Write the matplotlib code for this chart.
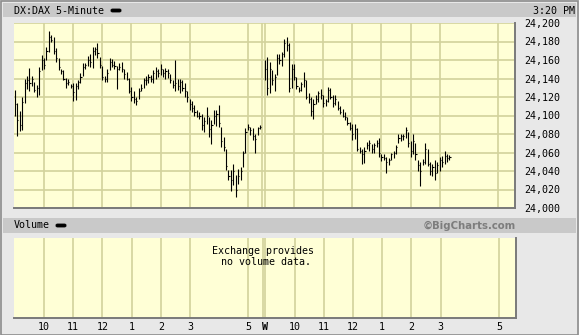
import matplotlib
matplotlib.use("Agg")
import matplotlib.pyplot as plt
from matplotlib.patches import Rectangle, FancyBboxPatch
import numpy as np

W, H = 579, 335

# 5-minute HLC bars, day 1 (9:00 - 17:25)
day1_high = [24128, 24114, 24105, 24120, 24140, 24143, 24151, 24143, 24136, 24133,
             24152, 24165, 24162, 24174, 24191, 24187, 24185, 24173, 24162, 24150,
             24149, 24141, 24140, 24134, 24135, 24135, 24138, 24146, 24157, 24157,
             24164, 24166, 24174, 24174, 24178, 24163, 24154, 24143, 24150, 24162,
             24161, 24159, 24154, 24157, 24158, 24150, 24147, 24141, 24131, 24127,
             24120, 24130, 24134, 24141, 24143, 24145, 24144, 24149, 24152, 24150,
             24156, 24150, 24151, 24150, 24145, 24138, 24160, 24140, 24140, 24138,
             24135, 24126, 24118, 24116, 24111, 24106, 24104, 24102, 24098, 24109,
             24098, 24095, 24106, 24106, 24111, 24088, 24077, 24064, 24041, 24041,
             24048, 24036, 24042, 24044, 24062, 24086, 24091, 24088, 24086, 24080,
             24088, 24090]
day1_low = [24100, 24078, 24083, 24084, 24113, 24129, 24127, 24132, 24125, 24120,
            24122, 24149, 24150, 24160, 24169, 24180, 24167, 24158, 24149, 24145,
            24138, 24130, 24133, 24130, 24116, 24117, 24129, 24135, 24143, 24150,
            24154, 24152, 24151, 24165, 24162, 24151, 24138, 24136, 24136, 24149,
            24152, 24150, 24129, 24149, 24147, 24140, 24138, 24124, 24116, 24113,
            24111, 24118, 24126, 24130, 24133, 24135, 24136, 24135, 24140, 24142,
            24144, 24142, 24140, 24141, 24135, 24130, 24127, 24128, 24124, 24126,
            24120, 24115, 24106, 24104, 24100, 24098, 24096, 24084, 24082, 24091,
            24077, 24069, 24091, 24089, 24088, 24066, 24062, 24041, 24030, 24018,
            24025, 24012, 24026, 24030, 24044, 24060, 24084, 24079, 24073, 24059,
            24079, 24085]
day1_close = [24112, 24095, 24090, 24115, 24135, 24138, 24135, 24140, 24128, 24130,
              24148, 24160, 24155, 24170, 24185, 24182, 24170, 24162, 24152, 24148,
              24140, 24135, 24136, 24132, 24125, 24132, 24136, 24142, 24152, 24155,
              24160, 24158, 24170, 24172, 24168, 24155, 24142, 24140, 24146, 24158,
              24155, 24153, 24150, 24152, 24150, 24145, 24140, 24126, 24120, 24118,
              24116, 24126, 24130, 24138, 24138, 24142, 24140, 24146, 24148, 24146,
              24150, 24146, 24148, 24146, 24138, 24133, 24135, 24132, 24136, 24130,
              24126, 24120, 24112, 24108, 24104, 24100, 24100, 24090, 24094, 24100,
              24085, 24090, 24100, 24102, 24092, 24072, 24066, 24045, 24035, 24030,
              24040, 24020, 24035, 24040, 24060, 24082, 24088, 24084, 24078, 24075,
              24086, 24088]

# day 2 (9:00 - 15:20)
day2_high = [24160, 24163, 24158, 24149, 24145, 24167, 24167, 24169, 24183, 24185,
             24178, 24156, 24156, 24142, 24131, 24136, 24147, 24138, 24124, 24120,
             24118, 24122, 24127, 24129, 24122, 24118, 24131, 24130, 24122, 24122,
             24116, 24110, 24107, 24104, 24098, 24093, 24091, 24091, 24087, 24066,
             24064, 24066, 24071, 24073, 24069, 24070, 24073, 24076, 24058, 24058,
             24055, 24054, 24060, 24062, 24068, 24080, 24080, 24080, 24088, 24082,
             24072, 24080, 24070, 24052, 24050, 24053, 24070, 24064, 24050, 24048,
             24052, 24050, 24055, 24056, 24062, 24058, 24057]
day2_low = [24138, 24122, 24124, 24133, 24127, 24144, 24156, 24153, 24163, 24170,
            24125, 24130, 24138, 24129, 24125, 24127, 24131, 24118, 24113, 24100,
            24096, 24112, 24115, 24118, 24109, 24110, 24115, 24118, 24109, 24111,
            24106, 24102, 24098, 24095, 24090, 24084, 24073, 24075, 24062, 24060,
            24048, 24049, 24064, 24062, 24060, 24060, 24066, 24055, 24051, 24052,
            24038, 24047, 24052, 24054, 24058, 24070, 24072, 24074, 24076, 24066,
            24055, 24058, 24052, 24040, 24024, 24046, 24048, 24045, 24036, 24035,
            24030, 24038, 24040, 24044, 24048, 24050, 24052]
day2_close = [24150, 24130, 24150, 24138, 24142, 24162, 24160, 24166, 24178, 24176,
              24130, 24150, 24142, 24132, 24128, 24134, 24138, 24120, 24118, 24105,
              24112, 24118, 24124, 24122, 24114, 24116, 24128, 24120, 24114, 24118,
              24108, 24104, 24100, 24098, 24092, 24086, 24080, 24085, 24064, 24062,
              24058, 24062, 24068, 24070, 24064, 24068, 24070, 24060, 24055, 24054,
              24050, 24052, 24058, 24060, 24066, 24076, 24078, 24078, 24084, 24070,
              24062, 24072, 24058, 24046, 24040, 24050, 24064, 24048, 24040, 24044,
              24038, 24046, 24052, 24050, 24056, 24054, 24055]

price_ticks = [24000, 24020, 24040, 24060, 24080, 24100, 24120, 24140, 24160, 24180, 24200]
hour_labels = ["10", "11", "12", "1", "2", "3", "5"]
hour_of_day = [10, 11, 12, 13, 14, 15, 17]

BAR_H = 5 / 60.0
DAY2_OFFSET = 8.5 + BAR_H  # hours from day-1 open to day-2 open on the x axis

BG = "#e8e8e8"
BAR_BG = "#c9c9c9"
PLOT_BG = "#ffffd6"
GRID = "#d2d29c"
SHADOW = "#7a7a7a"
MONO = "DejaVu Sans Mono"


def add_ax(fig, l, t, r, b):
    return fig.add_axes([l / W, 1 - b / H, (r - l) / W, (b - t) / H])


def px_rect(fig, l, t, r, b, color, z=0):
    fig.patches.append(Rectangle((l / W, 1 - b / H), (r - l) / W, (b - t) / H,
                                 transform=fig.transFigure, facecolor=color,
                                 edgecolor="none", zorder=z))


fig = plt.figure(figsize=(W / 100, H / 100), dpi=100)
fig.patch.set_facecolor(BG)

# outer frame and title strips
fig.patches.append(Rectangle((0.5 / W, 0.5 / H), (W - 1.5) / W, (H - 1.5) / H,
                             transform=fig.transFigure, facecolor="none",
                             edgecolor="#8c8c8c", linewidth=1.2))
px_rect(fig, 3, 3, 576, 17, BAR_BG)
px_rect(fig, 3, 218, 576, 233, BAR_BG)

fig.text(14 / W, 1 - 10.5 / H, "DX:DAX 5-Minute", family=MONO, fontsize=7.2,
         va="center", ha="left")
fig.patches.append(FancyBboxPatch((111 / W, 1 - 12 / H), 10 / W, 3 / H,
                                  boxstyle="round,pad=0,rounding_size=0.003",
                                  transform=fig.transFigure, facecolor="black",
                                  edgecolor="black", linewidth=0.6))
fig.text(575 / W, 1 - 10.5 / H, "3:20 PM", family=MONO, fontsize=7.2,
         va="center", ha="right")
fig.text(14 / W, 1 - 225.5 / H, "Volume", family=MONO, fontsize=7.2,
         va="center", ha="left")
fig.patches.append(FancyBboxPatch((56 / W, 1 - 227 / H), 10 / W, 3 / H,
                                  boxstyle="round,pad=0,rounding_size=0.003",
                                  transform=fig.transFigure, facecolor="black",
                                  edgecolor="black", linewidth=0.6))
fig.text(516 / W, 1 - 225.5 / H, "\u00a9BigCharts.com", fontsize=7.3,
         fontweight="bold", color="#7d7d7d", va="center", ha="right")

# x positions in hours since day-1 open
x1 = np.arange(len(day1_close)) * BAR_H
x2 = DAY2_OFFSET + np.arange(len(day2_close)) * BAR_H
tick_x = [h - 9 for h in hour_of_day] + [DAY2_OFFSET] + \
         [DAY2_OFFSET + h - 9 for h in hour_of_day]
tick_lab = hour_labels + ["W"] + hour_labels
grid_x = [h - 9 for h in hour_of_day] + [8.5, DAY2_OFFSET] + \
         [DAY2_OFFSET + h - 9 for h in hour_of_day]
xmin, xmax = -0.03, 17.17

# ---- price panel -------------------------------------------------------
ax = add_ax(fig, 14, 23, 515, 208)
ax.set_facecolor(PLOT_BG)
ax.set_xlim(xmin, xmax)
ax.set_ylim(24000, 24200)
for y in price_ticks:
    ax.axhline(y, color=GRID, lw=1.2, zorder=1)
for x in grid_x:
    ax.axvline(x, color=GRID, lw=1.2, zorder=1)

for xs, hi, lo, cl in ((x1, day1_high, day1_low, day1_close),
                       (x2, day2_high, day2_low, day2_close)):
    ax.vlines(xs, lo, hi, color="black", lw=0.8, zorder=3)
    ax.hlines(cl, xs, xs + 0.04, color="black", lw=0.8, zorder=3)

ax.set_xticks([])
ax.yaxis.tick_right()
ax.set_yticks(price_ticks)
ax.set_yticklabels([f"{v:,}" for v in price_ticks], family=MONO, fontsize=7.2)
ax.tick_params(axis="y", length=0, pad=7)
for s in ("top", "left"):
    ax.spines[s].set_visible(False)
for s in ("bottom", "right"):
    ax.spines[s].set_color(SHADOW)
    ax.spines[s].set_linewidth(1.4)

# ---- volume panel ------------------------------------------------------
vax = add_ax(fig, 14, 238, 516, 318)
vax.set_facecolor(PLOT_BG)
vax.set_xlim(xmin, xmax)
vax.set_ylim(0, 1)
for x in grid_x:
    vax.axvline(x, color=GRID, lw=1.2, zorder=1)
vax.text(8.5, 0.77, "Exchange provides\n no volume data.", family=MONO,
         fontsize=7.2, ha="center", va="center", linespacing=1.1)
vax.set_yticks([])
vax.set_xticks(tick_x)
vax.set_xticklabels(tick_lab, family=MONO, fontsize=7.2)
for lab in vax.get_xticklabels():
    if lab.get_text() == "W":
        lab.set_fontweight("bold")
vax.tick_params(axis="x", length=0, pad=3)
for s in ("top", "left"):
    vax.spines[s].set_visible(False)
for s in ("bottom", "right"):
    vax.spines[s].set_color(SHADOW)
    vax.spines[s].set_linewidth(1.4)

fig.savefig("out.png", dpi=100, facecolor=fig.get_facecolor())
plt.close(fig)
